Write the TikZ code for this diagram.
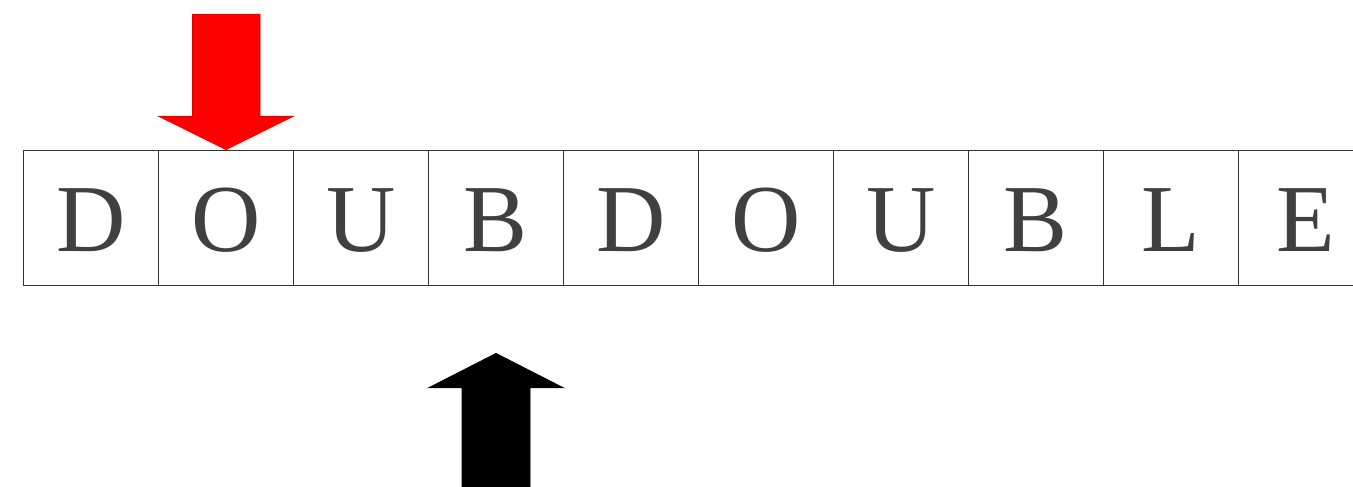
\documentclass[tikz,border=0pt]{standalone}
\usepackage{fontspec}
\setmainfont{Liberation Serif}
\begin{document}
\begin{tikzpicture}[x=1pt,y=-1pt,
  cell/.style={draw=black!80, line width=1.1pt, minimum width=135pt, minimum height=135pt,
    inner sep=0pt, text height=67pt, text depth=0pt, text=black!75,
    font=\fontsize{96}{100}\selectfont},
  redarrow/.style={fill=red, draw=red!85!black, line width=0.6pt},
  blackarrow/.style={fill=black, draw=black, line width=0.6pt}]
\useasboundingbox (0,0) rectangle (1353,487);
\clip (0,0) rectangle (1353,487);
\foreach \l [count=\i from 0] in {D,O,U,B,D,O,U,B,L,E}{
  \node[cell] (c\i) at ({91+135*\i},217.75) {\l};
}
% red arrow pointing down at cell c1
\draw[redarrow] (c1.north) -- ++(-67.5,-33.5) -- ++(34,0) -- ++(0,-102) -- ++(67.5,0)
  -- ++(0,102) -- ++(33.5,0) -- cycle;
% black arrow pointing up at cell c3
\coordinate (btip) at ([yshift=-67.5pt]c3.south);
\draw[blackarrow] (btip) -- ++(67.5,34.5) -- ++(-33.5,0) -- ++(0,110) -- ++(-68,0)
  -- ++(0,-110) -- ++(-33.5,0) -- cycle;
\end{tikzpicture}
\end{document}
